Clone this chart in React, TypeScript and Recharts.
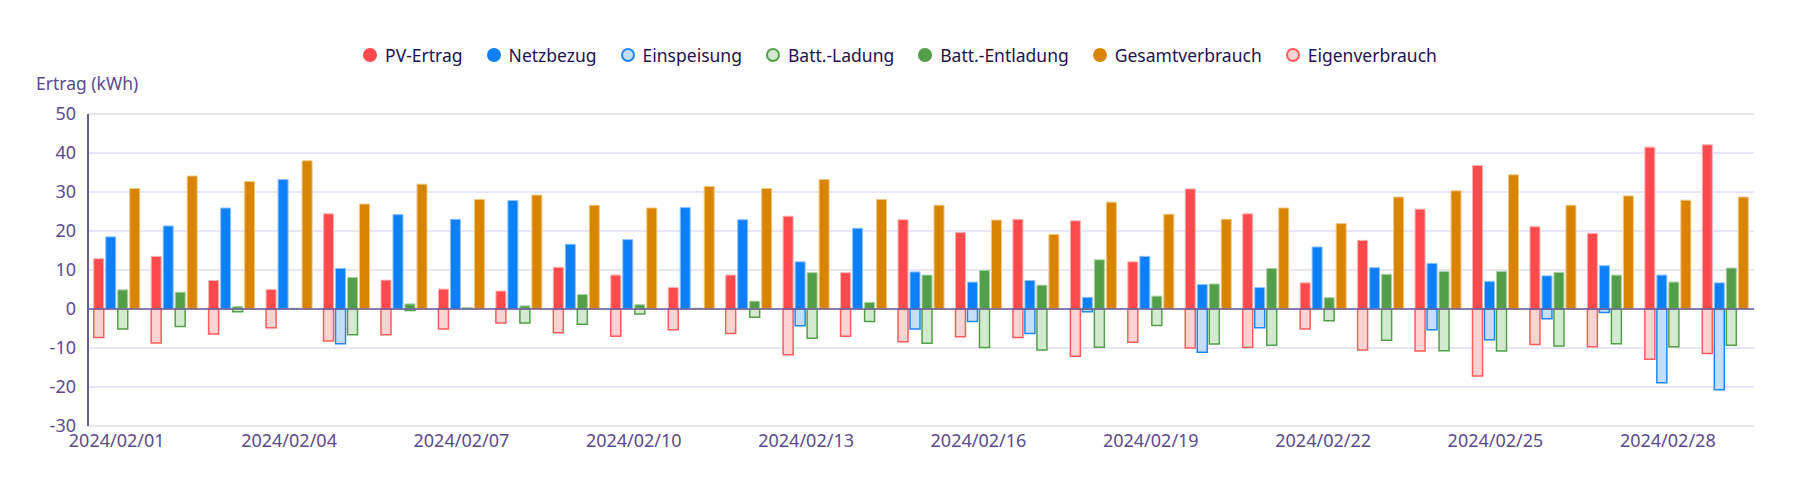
import React from "react";
import { BarChart, Bar, XAxis, YAxis, CartesianGrid, ReferenceLine } from "recharts";

// Daily energy figures for February 2024 (kWh)
const days = [
  "2024/02/01", "2024/02/02", "2024/02/03", "2024/02/04", "2024/02/05", "2024/02/06", "2024/02/07",
  "2024/02/08", "2024/02/09", "2024/02/10", "2024/02/11", "2024/02/12", "2024/02/13", "2024/02/14",
  "2024/02/15", "2024/02/16", "2024/02/17", "2024/02/18", "2024/02/19", "2024/02/20", "2024/02/21",
  "2024/02/22", "2024/02/23", "2024/02/24", "2024/02/25", "2024/02/26", "2024/02/27", "2024/02/28",
  "2024/02/29",
];

const pvYield = [
  12.9, 13.5, 7.3, 5.0, 24.4, 7.4, 5.1, 4.6, 10.7, 8.7, 5.5, 8.7, 23.8, 9.3, 22.9, 19.6, 23.0, 22.6,
  12.1, 30.8, 24.4, 6.7, 17.6, 25.6, 36.8, 21.1, 19.4, 41.5, 42.1,
];
const gridDraw = [
  18.5, 21.3, 25.9, 33.2, 10.4, 24.2, 23.0, 27.8, 16.6, 17.8, 26.0, 22.9, 12.1, 20.7, 9.5, 6.9, 7.3, 3.0,
  13.5, 6.3, 5.5, 15.9, 10.6, 11.7, 7.1, 8.5, 11.1, 8.7, 6.7,
];
const feedIn = [
  0, 0, 0, 0, -8.9, 0, 0, 0, 0, 0, 0, 0, -4.3, 0, -5.1, -3.2, -6.3, -0.7, 0, -11.1, -4.8, 0, 0, -5.3,
  -7.9, -2.5, -0.9, -18.9, -20.7,
];
const battCharge = [
  -5.1, -4.5, -0.7, 0, -6.6, -0.4, 0, -3.6, -3.9, -1.3, 0, -2.1, -7.5, -3.2, -8.8, -9.9, -10.5, -9.8,
  -4.2, -9.0, -9.3, -3.0, -8.0, -10.7, -10.8, -9.5, -8.9, -9.7, -9.3,
];
const battDischarge = [
  4.9, 4.3, 0.6, 0.2, 8.1, 1.3, 0.35, 0.8, 3.7, 1.1, 0.2, 2.0, 9.3, 1.7, 8.7, 9.9, 6.1, 12.6, 3.3, 6.4,
  10.4, 2.9, 8.9, 9.6, 9.6, 9.4, 8.7, 6.9, 10.5,
];
const totalUse = [
  30.9, 34.1, 32.7, 38.0, 26.9, 32.0, 28.1, 29.2, 26.6, 25.9, 31.4, 30.9, 33.2, 28.1, 26.6, 22.8, 19.1,
  27.4, 24.3, 23.0, 25.9, 21.9, 28.7, 30.3, 34.4, 26.6, 29.0, 27.9, 28.7,
];
const selfUse = [
  -7.3, -8.7, -6.4, -4.8, -8.2, -6.6, -5.1, -3.6, -6.1, -7.0, -5.3, -6.3, -11.7, -7.0, -8.4, -7.1, -7.3,
  -12.1, -8.5, -10.0, -9.9, -5.1, -10.5, -10.8, -17.2, -9.1, -9.7, -12.9, -11.4,
];

const yTicks = [-30, -20, -10, 0, 10, 20, 30, 40, 50];

type Series = {
  key: string;
  name: string;
  stack: string;
  values: number[];
  fill: string;
  stroke: string;
  hollow: boolean;
};

// Order of this list sets legend order; stackIds set the bar group order per day.
const series: Series[] = [
  { key: "pv", name: "PV-Ertrag", stack: "pv", values: pvYield, fill: "#ff4a4d", stroke: "#ffb0b0", hollow: false },
  { key: "grid", name: "Netzbezug", stack: "grid", values: gridDraw, fill: "#0d80f7", stroke: "#8cc2fb", hollow: false },
  { key: "feed", name: "Einspeisung", stack: "grid", values: feedIn, fill: "#c4defa", stroke: "#1e88f5", hollow: true },
  { key: "charge", name: "Batt.-Ladung", stack: "batt", values: battCharge, fill: "#d4ead0", stroke: "#53a04b", hollow: true },
  { key: "discharge", name: "Batt.-Entladung", stack: "batt", values: battDischarge, fill: "#529e49", stroke: "#a6d19f", hollow: false },
  { key: "total", name: "Gesamtverbrauch", stack: "total", values: totalUse, fill: "#d98400", stroke: "#f0c780", hollow: false },
  { key: "self", name: "Eigenverbrauch", stack: "pv", values: selfUse, fill: "#ffd3d3", stroke: "#ff5c5c", hollow: true },
];

const rows = days.map((day, i) => {
  const row: Record<string, string | number> = { day };
  series.forEach((s) => {
    row[s.key] = s.values[i];
  });
  return row;
});

const axisColor = "#5c4a8e";
const fontFamily = "'Noto Sans', 'Open Sans', sans-serif";

function LegendRow() {
  return (
    <div
      style={{
        position: "absolute",
        top: 43,
        left: 0,
        width: 1800,
        display: "flex",
        justifyContent: "center",
        gap: 24,
        fontSize: 17.5,
        color: "#24124f",
        fontFamily,
        lineHeight: "24px",
      }}
    >
      {series.map((s) => (
        <div key={s.key} style={{ display: "flex", alignItems: "center" }}>
          <span
            style={{
              display: "inline-block",
              width: s.hollow ? 10 : 14,
              height: s.hollow ? 10 : 14,
              borderRadius: "50%",
              background: s.fill,
              border: s.hollow ? `2px solid ${s.stroke}` : "none",
              marginRight: 8,
            }}
          />
          <span>{s.name}</span>
        </div>
      ))}
    </div>
  );
}

export default function App() {
  return (
    <div
      style={{
        position: "absolute",
        left: 0,
        top: 0,
        width: 1800,
        height: 493,
        background: "#ffffff",
        fontFamily,
      }}
    >
      <LegendRow />
      <div
        style={{
          position: "absolute",
          left: 36,
          top: 71,
          fontSize: 17.5,
          color: axisColor,
          lineHeight: "24px",
        }}
      >
        Ertrag (kWh)
      </div>
      <BarChart
        width={1800}
        height={493}
        data={rows}
        stackOffset="sign"
        barCategoryGap="10%"
        barGap={2}
        margin={{ top: 114, right: 46, bottom: 37, left: 0 }}
      >
        <CartesianGrid vertical={false} stroke="#dedef4" strokeWidth={1.5} />
        <XAxis
          dataKey="day"
          interval={2}
          tickLine={false}
          axisLine={false}
          height={30}
          tickMargin={2}
          tick={{ fill: axisColor, fontSize: 18 }}
        />
        <YAxis
          domain={[-30, 50]}
          ticks={yTicks}
          width={88}
          tickLine={false}
          tickMargin={6}
          axisLine={{ stroke: "#6b5b98", strokeWidth: 2 }}
          tick={{ fill: axisColor, fontSize: 18 }}
        />
        {series.map((s) => (
          <Bar
            key={s.key}
            dataKey={s.key}
            name={s.name}
            stackId={s.stack}
            fill={s.fill}
            stroke={s.stroke}
            strokeWidth={s.hollow ? 1.5 : 1}
            isAnimationActive={false}
          />
        ))}
        <ReferenceLine y={0} stroke="#6b5b98" strokeWidth={1.5} />
      </BarChart>
    </div>
  );
}
